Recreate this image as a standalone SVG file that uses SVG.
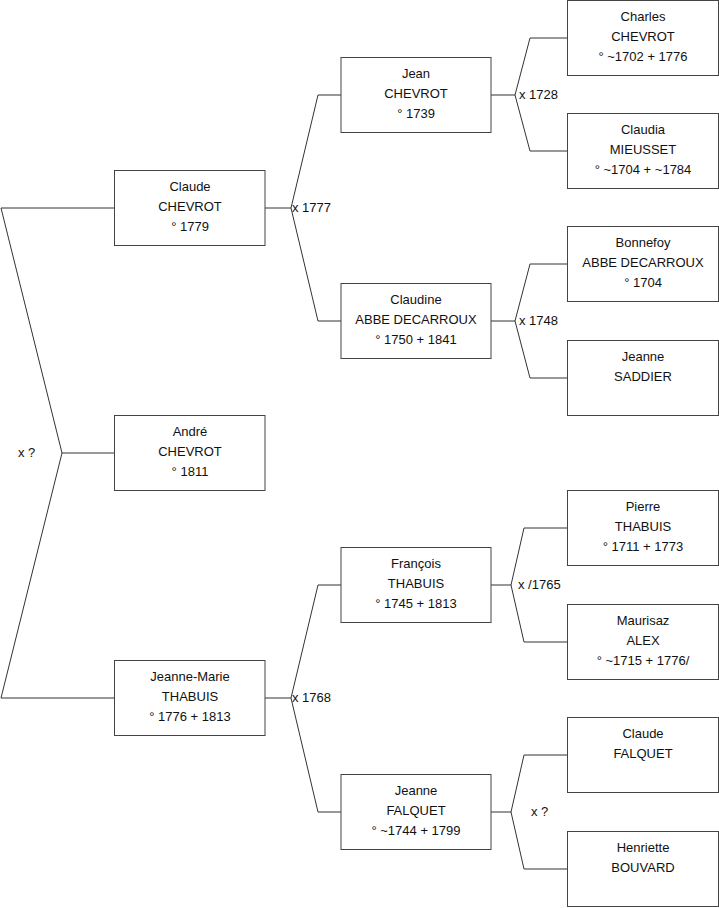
<svg xmlns="http://www.w3.org/2000/svg" width="719" height="908" viewBox="0 0 719 908">
<style>
.box{fill:#fff;stroke:#444;stroke-width:1}
.t{font-family:"Liberation Sans",Arial,sans-serif;font-size:13px;fill:#111;text-anchor:middle}
.l{font-family:"Liberation Sans",Arial,sans-serif;font-size:13px;fill:#111}
.c{fill:none;stroke:#333;stroke-width:1}
</style>
<rect width="719" height="908" fill="#fff"/>
<g id="connectors">
<polyline class="c" points="114.5,208 1,208 62,453 1,698 114.5,698"/>
<line class="c" x1="62" y1="453" x2="114.5" y2="453"/>
<polyline class="c" points="341,95 318,95 291,208 318,321 341,321"/>
<line class="c" x1="265" y1="208" x2="291" y2="208"/>
<polyline class="c" points="341,585 318,585 291,698 318,812 341,812"/>
<line class="c" x1="265" y1="698" x2="291" y2="698"/>
<polyline class="c" points="567,38 530,38 515,95 530,151 567,151"/>
<line class="c" x1="491" y1="95" x2="515" y2="95"/>
<polyline class="c" points="567,264 530,264 515,321 530,378 567,378"/>
<line class="c" x1="491" y1="321" x2="515" y2="321"/>
<polyline class="c" points="567,528 524,528 511,585 524,642 567,642"/>
<line class="c" x1="491" y1="585" x2="511" y2="585"/>
<polyline class="c" points="567,755 524,755 511,812 524,869 567,869"/>
<line class="c" x1="491" y1="812" x2="511" y2="812"/>
<text class="l" x="18" y="457">x ?</text>
<text class="l" x="292" y="212">x 1777</text>
<text class="l" x="292" y="702">x 1768</text>
<text class="l" x="519" y="99">x 1728</text>
<text class="l" x="519" y="325">x 1748</text>
<text class="l" x="518" y="589">x /1765</text>
<text class="l" x="531" y="816">x ?</text>
</g>
<g id="claude_chevrot"><rect class="box" x="114.5" y="170.5" width="150.5" height="75"/>
<text class="t" x="190" y="191">Claude</text><text class="t" x="190" y="211">CHEVROT</text><text class="t" x="190" y="231">° 1779</text></g>
<g id="andre_chevrot"><rect class="box" x="114.5" y="415.5" width="150.5" height="75"/>
<text class="t" x="190" y="436">André</text><text class="t" x="190" y="456">CHEVROT</text><text class="t" x="190" y="476">° 1811</text></g>
<g id="jeanne_marie_thabuis"><rect class="box" x="114.5" y="660.5" width="150.5" height="75"/>
<text class="t" x="190" y="681">Jeanne-Marie</text><text class="t" x="190" y="701">THABUIS</text><text class="t" x="190" y="721">° 1776 + 1813</text></g>
<g id="jean_chevrot"><rect class="box" x="341" y="57.5" width="150" height="75"/>
<text class="t" x="416" y="78">Jean</text><text class="t" x="416" y="98">CHEVROT</text><text class="t" x="416" y="118">° 1739</text></g>
<g id="claudine_abbe_decarroux"><rect class="box" x="341" y="283.5" width="150" height="75"/>
<text class="t" x="416" y="304">Claudine</text><text class="t" x="416" y="324">ABBE DECARROUX</text><text class="t" x="416" y="344">° 1750 + 1841</text></g>
<g id="francois_thabuis"><rect class="box" x="341" y="547.5" width="150" height="75"/>
<text class="t" x="416" y="568">François</text><text class="t" x="416" y="588">THABUIS</text><text class="t" x="416" y="608">° 1745 + 1813</text></g>
<g id="jeanne_falquet"><rect class="box" x="341" y="774.5" width="150" height="75"/>
<text class="t" x="416" y="795">Jeanne</text><text class="t" x="416" y="815">FALQUET</text><text class="t" x="416" y="835">° ~1744 + 1799</text></g>
<g id="charles_chevrot"><rect class="box" x="567.5" y="0.5" width="151" height="75"/>
<text class="t" x="643" y="21">Charles</text><text class="t" x="643" y="41">CHEVROT</text><text class="t" x="643" y="61">° ~1702 + 1776</text></g>
<g id="claudia_mieusset"><rect class="box" x="567.5" y="113.5" width="151" height="75"/>
<text class="t" x="643" y="134">Claudia</text><text class="t" x="643" y="154">MIEUSSET</text><text class="t" x="643" y="174">° ~1704 + ~1784</text></g>
<g id="bonnefoy_abbe_decarroux"><rect class="box" x="567.5" y="226.5" width="151" height="75"/>
<text class="t" x="643" y="247">Bonnefoy</text><text class="t" x="643" y="267">ABBE DECARROUX</text><text class="t" x="643" y="287">° 1704</text></g>
<g id="jeanne_saddier"><rect class="box" x="567.5" y="340.5" width="151" height="75"/>
<text class="t" x="643" y="361">Jeanne</text><text class="t" x="643" y="381">SADDIER</text></g>
<g id="pierre_thabuis"><rect class="box" x="567.5" y="490.5" width="151" height="75"/>
<text class="t" x="643" y="511">Pierre</text><text class="t" x="643" y="531">THABUIS</text><text class="t" x="643" y="551">° 1711 + 1773</text></g>
<g id="maurisaz_alex"><rect class="box" x="567.5" y="604.5" width="151" height="75"/>
<text class="t" x="643" y="625">Maurisaz</text><text class="t" x="643" y="645">ALEX</text><text class="t" x="643" y="665">° ~1715 + 1776/</text></g>
<g id="claude_falquet"><rect class="box" x="567.5" y="717.5" width="151" height="75"/>
<text class="t" x="643" y="738">Claude</text><text class="t" x="643" y="758">FALQUET</text></g>
<g id="henriette_bouvard"><rect class="box" x="567.5" y="831.5" width="151" height="75"/>
<text class="t" x="643" y="852">Henriette</text><text class="t" x="643" y="872">BOUVARD</text></g>
</svg>
